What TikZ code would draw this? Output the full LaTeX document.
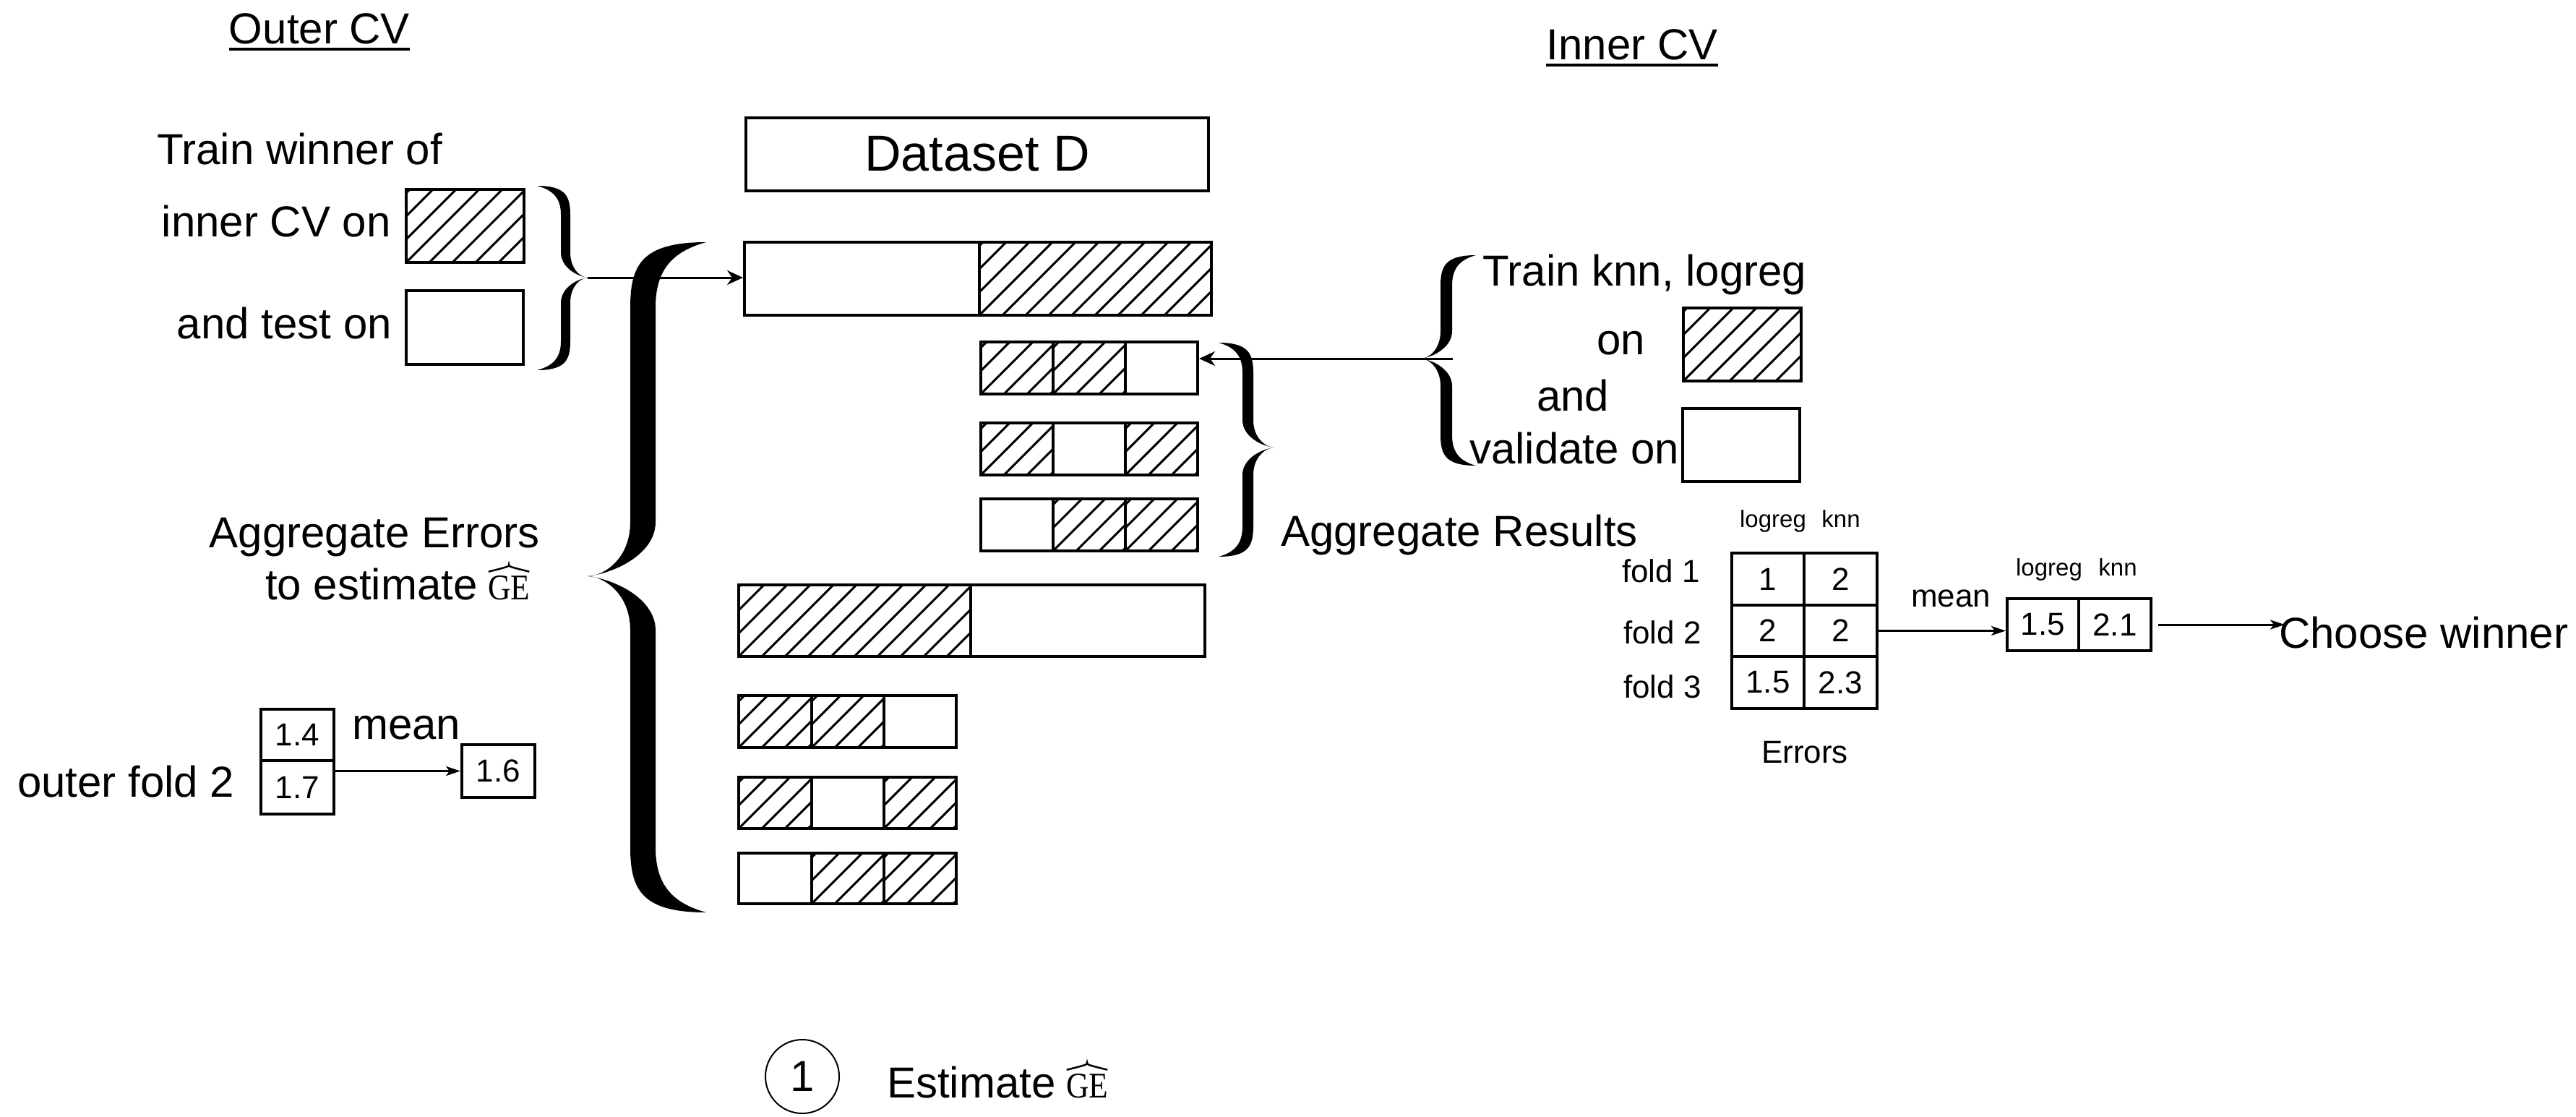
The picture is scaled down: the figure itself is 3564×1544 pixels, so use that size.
\documentclass[tikz,border=0pt]{standalone}
\usepackage{fontspec}
\setmainfont{Liberation Sans}
\newfontfamily\gefont[FakeStretch=0.87]{Liberation Serif}
\usetikzlibrary{arrows.meta}

% hatch lines clipped to a rectangle (image coordinates, y downwards)
\newcommand\hatch[4]{%
  \begin{scope}
    \clip (#1,#2) rectangle (#3,#4);
    \foreach \a in {-128,-96,...,352}{\draw[hatchst] ({#1+\a},#4) -- ++({#4-#2},{#2-#4});}
  \end{scope}}
% plain box node
\newcommand\rbox[6]{%
  \node[cellst, minimum width={(#4-#2)*1pt}, minimum height={(#5-#3)*1pt}] (#1) at ({(#2+#4)/2},{(#3+#5)/2}) {#6};}
% hatched box node
\newcommand\hatchcell[5]{\hatch{#2}{#3}{#4}{#5}\rbox{#1}{#2}{#3}{#4}{#5}{}}
% curly brace: tip x, stem x (tip side), stem x (other side), end x, top y, mid y, bottom y, end curve, mid curve
\newcommand\curly[9]{%
  \fill
  (#4,#5) .. controls ({#2+0.15*(#4-#2)},#5) and (#2,{#5+0.35*#8}) .. (#2,{#5+#8})
  -- (#2,{#6-#9})
  .. controls (#2,{#6-0.3*#9}) and ({#1+0.35*(#2-#1)},#6) .. (#1,#6)
  .. controls ({#1+0.35*(#2-#1)},#6) and (#2,{#6+0.3*#9}) .. (#2,{#6+#9})
  -- (#2,{#7-#8})
  .. controls (#2,{#7-0.35*#8}) and ({#2+0.15*(#4-#2)},#7) .. (#4,#7)
  .. controls ({#3+0.3*(#4-#3)},{#7-0.15*#8}) and (#3,{#7-0.45*#8}) .. (#3,{#7-#8})
  -- (#3,{#6+#9})
  .. controls (#3,{#6+0.4*#9}) and ({#1+0.6*(#2-#1)},{#6+0.05*#9}) .. (#1,#6)
  .. controls ({#1+0.6*(#2-#1)},{#6-0.05*#9}) and (#3,{#6-0.4*#9}) .. (#3,{#6-#9})
  -- (#3,{#5+#8})
  .. controls (#3,{#5+0.45*#8}) and ({#3+0.3*(#4-#3)},{#5+0.15*#8}) .. (#4,#5)
  -- cycle;}
% GE with a wide hat, placed after a text node
\newcommand\gehat[2]{%
  \node[gest, anchor=base west] (#1) at ([xshift=14pt]#2.base east) {GE};
  \draw[line width=2.5pt] ([xshift=1pt,yshift=5pt]#1.north west)
     .. controls ([yshift=12pt]#1.north) .. ([yshift=15pt]#1.north)
     .. controls ([yshift=12pt]#1.north) .. ([xshift=-1pt,yshift=5pt]#1.north east);}

\begin{document}
\begin{tikzpicture}[x=1pt,y=-1pt,
  cellst/.style={draw, line width=4pt, inner sep=0pt, font=\fontsize{44}{52}\selectfont},
  hatchst/.style={line width=3pt},
  arr/.style={line width=3pt, -{Stealth[length=22pt,width=20pt,inset=7pt]}},
  arrs/.style={line width=3pt, -{Stealth[length=20pt,width=13pt,inset=5pt]}},
  tl/.style={font=\fontsize{60}{72}\selectfont, inner sep=0pt},
  tm/.style={font=\fontsize{44}{52}\selectfont, inner sep=0pt},
  ts/.style={font=\fontsize{33}{40}\selectfont, inner sep=0pt},
  gest/.style={font=\gefont\fontsize{50}{60}\selectfont, inner sep=0pt}]
\useasboundingbox (0,0) rectangle (3564,1544);

% ---------- titles ----------
\node[tl, anchor=base] (outer) at (442,61) {Outer CV};
\draw[line width=4pt] ([yshift=-7pt]outer.base west) -- ([yshift=-7pt]outer.base east);
\node[tl, anchor=base] (inner) at (2258,83) {Inner CV};
\draw[line width=4pt] ([yshift=-7pt]inner.base west) -- ([yshift=-7pt]inner.base east);

% ---------- outer CV text ----------
\node[tl, anchor=base west] (twin) at (217,227) {Train winner of};
\node[tl, anchor=base east] (icv) at (541,327) {inner CV on};
\node[tl, anchor=base east] (tst) at (542,468) {and test on};
\hatchcell{otrain}{562}{262}{725}{363}
\rbox{otest}{562}{402}{724}{504}{}
\node[tl, anchor=base east] (agg1) at (747,757) {Aggregate Errors};
\node[tl, anchor=base west] (agg2) at (367,829) {to estimate};
\gehat{ge1}{agg2}
\node[tl, anchor=base west] (of2) at (24,1102) {outer fold 2};
\rbox{v14}{361}{981}{462}{1052}{1.4}
\rbox{v17}{361}{1052}{462}{1126}{1.7}
\rbox{v16}{639}{1030}{740}{1103}{1.6}
\node[tl, anchor=base west] (mean1) at (487,1022) {mean};
\draw[arrs] (v17.east |- v16.west) -- (v16.west);

% ---------- braces ----------
\curly{813}{789}{776}{743}{257}{384}{512}{40}{35}
\curly{813}{872}{907}{977}{335}{797}{1262}{90}{75}
\curly{1763}{1734}{1719}{1686}{474}{619}{770}{42}{38}
\curly{1966}{1993}{2009}{2042}{353}{496}{644}{42}{38}
\coordinate (tipO) at (813,384);
\coordinate (tipI) at (2010,496);

% ---------- dataset ----------
\node[draw, line width=4pt, inner sep=0pt, minimum width=640pt, minimum height=101pt,
      font=\fontsize{70}{84}\selectfont] (ds) at (1352,213) {Dataset D};

% outer split 1
\rbox{barA}{1030}{335}{1355}{436}{}
\hatchcell{barB}{1355}{335}{1676}{436}
% inner splits 1
\hatchcell{ra1}{1357}{473}{1457}{545}
\hatchcell{ra2}{1457}{473}{1557}{545}
\rbox{ra3}{1557}{473}{1657}{545}{}
\hatchcell{rb1}{1357}{585}{1457}{657}
\rbox{rb2}{1457}{585}{1557}{657}{}
\hatchcell{rb3}{1557}{585}{1657}{657}
\rbox{rc1}{1357}{690}{1457}{762}{}
\hatchcell{rc2}{1457}{690}{1557}{762}
\hatchcell{rc3}{1557}{690}{1657}{762}
% outer split 2
\hatchcell{barC}{1022}{809}{1343}{908}
\rbox{barD}{1343}{809}{1667}{908}{}
% inner splits 2
\hatchcell{sa1}{1022}{962}{1123}{1034}
\hatchcell{sa2}{1123}{962}{1223}{1034}
\rbox{sa3}{1223}{962}{1323}{1034}{}
\hatchcell{sb1}{1022}{1075}{1123}{1146}
\rbox{sb2}{1123}{1075}{1223}{1146}{}
\hatchcell{sb3}{1223}{1075}{1323}{1146}
\rbox{sc1}{1022}{1180}{1123}{1250}{}
\hatchcell{sc2}{1123}{1180}{1223}{1250}
\hatchcell{sc3}{1223}{1180}{1323}{1250}

\draw[arr] (tipO) -- (tipO -| barA.west);
\draw[arr] (tipI) -- (tipI -| ra3.east);

% ---------- inner CV text ----------
\node[tl, anchor=base west] (tk) at (2051,395) {Train knn, logreg};
\node[tl, anchor=base west] (on2) at (2209,490) {on};
\node[tl, anchor=base west] (and2) at (2126,568) {and};
\node[tl, anchor=base west] (val) at (2033,641) {validate on};
\hatchcell{itrain}{2329}{426}{2492}{527}
\rbox{ival}{2328}{565}{2490}{666}{}
\node[tl, anchor=base west] (aggr) at (1772,755) {Aggregate Results};

% ---------- error table ----------
\node[ts, anchor=base] (h1) at (2453,729) {logreg};
\node[ts, anchor=base] (h2) at (2547,729) {knn};
\node[tm, anchor=base west] (f1) at (2244,805) {fold 1};
\node[tm, anchor=base west] (f2) at (2246,890) {fold 2};
\node[tm, anchor=base west] (f3) at (2246,965) {fold 3};
\rbox{t11}{2396}{765}{2496}{837}{1}
\rbox{t12}{2496}{765}{2597}{837}{2}
\rbox{t21}{2396}{837}{2496}{908}{2}
\rbox{t22}{2496}{837}{2597}{908}{2}
\rbox{t31}{2396}{908}{2496}{980}{1.5}
\rbox{t32}{2496}{908}{2597}{980}{2.3}
\node[tm, anchor=base] (err) at (2497,1055) {Errors};
\node[tm, anchor=base west] (mean2) at (2644,839) {mean};
\node[ts, anchor=base] (h3) at (2835,796) {logreg};
\node[ts, anchor=base] (h4) at (2930,796) {knn};
\rbox{m1}{2777}{828}{2876}{900}{1.5}
\rbox{m2}{2876}{828}{2976}{900}{2.1}
\node[tl, anchor=base west] (choose) at (3153,896) {Choose winner};
\draw[arrs] (t22.east) -- (t22.east -| m1.west);
\draw[arrs] ([xshift=8pt]m2.east) -- ([xshift=8pt]m2.east -| choose.west);

% ---------- bottom ----------
\node[draw, circle, line width=2pt, minimum size=102pt, inner sep=0pt,
      font=\fontsize{60}{72}\selectfont] (c1) at (1110,1489) {1};
\node[tl, anchor=base west] (est) at (1227,1518) {Estimate};
\gehat{ge2}{est}
\end{tikzpicture}
\end{document}
